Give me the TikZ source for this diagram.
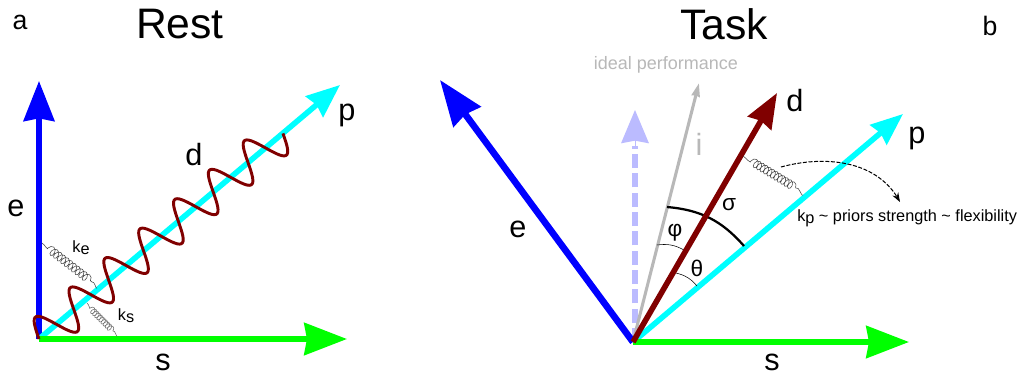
\documentclass[tikz,border=0pt]{standalone}
\usepackage{fontspec}
\setmainfont{Liberation Sans}
\usetikzlibrary{arrows.meta,decorations.pathmorphing,bending}
\definecolor{darkred}{HTML}{800000}
\definecolor{ghostblue}{HTML}{BBBBFF}
\definecolor{idealgray}{HTML}{B8B8B8}
\definecolor{axisblue}{HTML}{0000FF}
\definecolor{axiscyan}{HTML}{00FFFF}
\definecolor{axisgreen}{HTML}{00FF00}
\tikzset{
    axis/.style 2 args={
        line width=4.2pt,
        -{Stealth[length=#1,width=#2,inset=2pt]}
    },
    title/.style={
        font=\fontsize{32}{32}\selectfont
    },
    label/.style={
        font=\fontsize{23}{23}\selectfont
    },
    small/.style={
        font=\fontsize{12.2}{12.2}\selectfont
    },
    greek/.style={
        font=\fontsize{17}{17}\selectfont
    },
    corner/.style={
        font=\fontsize{20}{20}\selectfont
    },
    dwave/.style={
        darkred,
        line width=2.2pt
    },
    spring/.style={
        line width=0.4pt,
        draw=black!75
    },
    angle/.style={
        line width=0.4pt,
        black
    },
    bigangle/.style={
        line width=1.7pt,
        black
    }
}

\begin{document}
\begin{tikzpicture}[x=0.75pt,y=-0.75pt]
\useasboundingbox (0,0) rectangle (1026,379);

% rest
\coordinate (O1) at (39,339);
\coordinate (e1) at (39,81);
\coordinate (s1) at (347,339);
\coordinate (p1) at (340,85);

\draw[axis={30pt}{23pt},axisblue] (O1) -- (e1);
\draw[axis={25pt}{20pt},axiscyan] (O1) -- (p1);
\draw[axis={32pt}{24pt},axisgreen] (O1) -- (s1);
\draw[dwave] plot[domain=0:7,samples=211,smooth] ({39+\x*34.84-12.3*sin(360*\x)},{339-\x*29.4-14.6*sin(360*\x)});

\node[title] (rest) at (180,24) {Rest};
\node[corner] (a) at (20,22) {a};
\node[label] (le1) at (16,208) {e};
\node[label] (ls1) at (163,362) {s};
\node[label] (ld1) at (194,155) {d};
\node[label] (lp1) at (347,115) {p};
\node[small] (lke) at (81,248) {k\raisebox{-1.5pt}{e}};
\node[small] (lks) at (126,316) {k\raisebox{-1.5pt}{s}};

% springs
\coordinate (ke0) at (42,243);
\coordinate (ke1) at (48,248);
\coordinate (ke2) at (92,282);
\coordinate (ke3) at (97,288);
\coordinate (ks0) at (87,303);
\coordinate (ks1) at (90,308);
\coordinate (ks2) at (113,331);
\coordinate (ks3) at (117,336);
\draw[spring] (ke0) to[out=-30,in=-90] (ke1)
    decorate[decoration={coil,amplitude=3.2pt,segment length=3.4pt,aspect=0.7}] {-- (ke2)}
    to[out=40,in=-100] (ke3);
\draw[spring,draw=black!60] (ks0) to[out=-30,in=-90] (ks1)
    decorate[decoration={coil,amplitude=2.4pt,segment length=2.2pt,aspect=0.7}] {-- (ks2)}
    to[out=40,in=-90] (ks3);

% task
\coordinate (O2) at (633,342);
\coordinate (e2) at (440,80);
\coordinate (s2) at (909,342);
\coordinate (p2) at (903,114);
\coordinate (d2) at (777,93);
\coordinate (i2) at (699,83);
\coordinate (g2) at (635,110);
\coordinate (g1) at (635,146);
\coordinate (g0) at (635,342);

\draw[line width=3.9pt,ghostblue,dash pattern=on 10.5pt off 4pt] (g0) -- (g1);
\draw[ghostblue,line width=0pt,-{Stealth[length=25pt,width=21pt,inset=2pt]}] (g1) -- (g2);
\draw[idealgray,line width=2.3pt,-{Stealth[length=10pt,width=6pt,inset=0.5pt]}] (O2) -- (i2);
\draw[axis={34pt}{25pt},axisblue,line width=5pt] (O2) -- (e2);
\draw[axis={24pt}{19pt},axiscyan] (O2) -- (p2);
\draw[axis={32pt}{24pt},axisgreen] (O2) -- (s2);

% angles
\coordinate (sa) at (667,207);
\coordinate (sb) at (744,246);
\coordinate (fa) at (657,245);
\coordinate (fb) at (684,250);
\coordinate (ta) at (676,273);
\coordinate (tb) at (697,286);
\draw[bigangle] (sa) to[bend left=22] (sb);
\draw[angle] (fa) to[bend left=18] (fb);
\draw[angle] (ta) to[bend left=18] (tb);

\draw[axis={26pt}{20pt},darkred] (O2) -- (d2);

\coordinate (kp0) at (743,156);
\coordinate (kp1) at (751,161);
\coordinate (kp2) at (796,188);
\coordinate (kp3) at (803,195);
\draw[spring] (kp0) to[out=-30,in=-90] (kp1)
    decorate[decoration={coil,amplitude=3.2pt,segment length=3pt,aspect=0.7}] {-- (kp2)}
    to[out=40,in=-100] (kp3);

\coordinate (c0) at (781,167);
\coordinate (c1) at (900,202);
\draw[line width=0.75pt,dash pattern=on 3pt off 1.2pt,-{Stealth[length=7pt,width=5pt]}] (c0) .. controls (825,155) and (878,160) .. (c1);

\node[title] (task) at (724,24) {Task};
\node[corner] (b) at (990,26) {b};
\node[font=\fontsize{13.5}{13.5}\selectfont,text=idealgray] (ideal) at (666,65) {ideal performance};
\node[label,text=idealgray] (li2) at (699,144) {i};
\node[label] (le2) at (518,229) {e};
\node[label] (ls2) at (772,362) {s};
\node[label] (ld2) at (795,101) {d};
\node[label] (lp2) at (917,138) {p};
\node[greek] (lphi) at (675,233) {φ};
\node[greek] (lsig) at (729,205) {σ};
\node[greek] (lthe) at (697,268) {θ};
\node[small,anchor=west,inner sep=0pt] (lkp) at (797,218) {k\raisebox{-1.5pt}{p} \textasciitilde{} priors strength \textasciitilde{} flexibility};

\end{tikzpicture}
\end{document}
